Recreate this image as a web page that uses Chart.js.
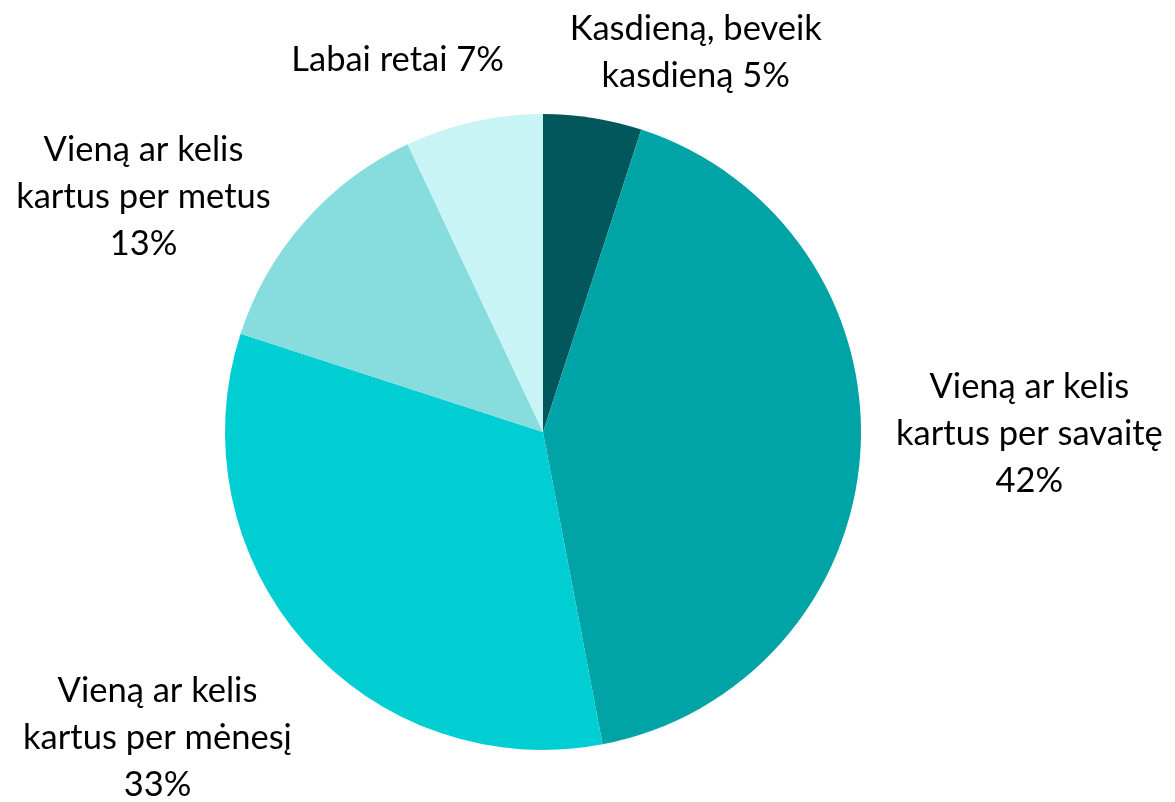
<!DOCTYPE html>
<html>
<head>
<meta charset="utf-8">
<script src="https://cdn.jsdelivr.net/npm/chart.js@4"></script>
<style>
    html, body { margin: 0; padding: 0; background: #fff; }
    #wrap { width: 1175px; height: 802px; position: relative; }
</style>
</head>
<body>
<div id="wrap"><canvas id="pieChart"></canvas></div>
<script>
// Data
const categories = [
    ['Kasdieną, beveik', 'kasdieną'],
    ['Vieną ar kelis', 'kartus per savaitę'],
    ['Vieną ar kelis', 'kartus per mėnesį'],
    ['Vieną ar kelis', 'kartus per metus'],
    ['Labai retai']
];
const shares = [5, 42, 33, 13, 7];
const sliceColors = ['#02575c', '#00a3a6', '#00ced3', '#87dcde', '#c9f4f5'];

// label nudges (px) from each slice's outer mid point
const labelNudge = [[103, -66], [169, -18], [-147, 96], [-161, -25], [-76, -62]];

const FONT = '34.5px Lato, "Open Sans", sans-serif';
const LINE_H = 47;

// Outside labels, Excel style
const outsideLabels = {
    id: 'outsideLabels',
    afterDatasetsDraw(chart) {
        const ctx = chart.ctx;
        const arcs = chart.getDatasetMeta(0).data;
        ctx.save();
        ctx.font = FONT;
        ctx.fillStyle = '#000';
        ctx.textAlign = 'center';
        ctx.textBaseline = 'middle';
        arcs.forEach((arc, i) => {
            const mid = (arc.startAngle + arc.endAngle) / 2;
            const x = arc.x + Math.cos(mid) * arc.outerRadius + labelNudge[i][0];
            const y = arc.y + Math.sin(mid) * arc.outerRadius + labelNudge[i][1];
            const lines = categories[i].slice();
            const pct = shares[i] + '%';
            // short labels keep the percent on the last text line
            if (i === 0 || i === 4) {
                lines[lines.length - 1] += ' ' + pct;
            } else {
                lines.push(pct);
            }
            const top = y - (lines.length - 1) * LINE_H / 2;
            lines.forEach((line, j) => ctx.fillText(line, x, top + j * LINE_H));
        });
        ctx.restore();
    }
};

new Chart(document.getElementById('pieChart'), {
    type: 'pie',
    data: {
        labels: categories.map(c => c.join(' ')),
        datasets: [{
            data: shares,
            backgroundColor: sliceColors,
            borderWidth: 0
        }]
    },
    options: {
        responsive: true,
        maintainAspectRatio: false,
        animation: false,
        layout: {
            padding: { top: 114, bottom: 52, left: 225, right: 314 }
        },
        plugins: {
            legend: { display: false },
            tooltip: { enabled: false }
        }
    },
    plugins: [outsideLabels]
});
</script>
</body>
</html>
